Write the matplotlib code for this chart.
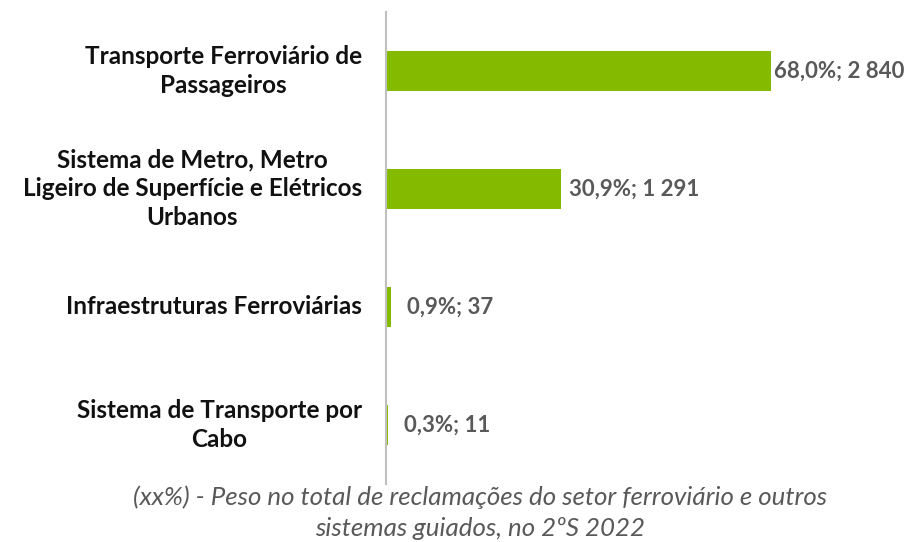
import matplotlib
matplotlib.use("Agg")
import matplotlib.pyplot as plt

categories = [
    "Transporte Ferroviário de\nPassageiros",
    "Sistema de Metro, Metro\nLigeiro de Superfície e Elétricos\nUrbanos",
    "Infraestruturas Ferroviárias",
    "Sistema de Transporte por\nCabo",
]
percent = [68.0, 30.9, 0.9, 0.3]
counts = ["2 840", "1 291", "37", "11"]
pct_labels = ["68,0%", "30,9%", "0,9%", "0,3%"]

W, H = 905, 542
fig = plt.figure(figsize=(W / 100, H / 100), dpi=100)
left, right = 386, 900
top, bottom = 12, 484
ax = fig.add_axes([left / W, 1 - bottom / H, (right - left) / W, (bottom - top) / H])

green = "#84bb00"
ypos = list(range(len(categories)))
ax.barh(ypos, percent, height=0.34, color=green, left=0)
ax.set_ylim(len(categories) - 0.5, -0.5)
ax.set_xlim(0, 90.8)

for y, p, pl, c in zip(ypos, percent, pct_labels, counts):
    off = 16 if p < 5 else (3 if p > 50 else 8)
    ax.annotate(f"{pl}; {c}", (p, y), xytext=(off * 0.72, 0), textcoords="offset points",
                va="center", ha="left", fontsize=16, fontweight="bold",
                color="#595959", family="Lato")

ytr = ax.get_yaxis_transform()
lab_x = (362 - left) / (right - left)
for y, cat in zip(ypos, categories):
    ax.text(lab_x, y, cat, transform=ytr, ha="right", va="center", fontsize=17.5,
            fontweight="bold", color="#111111", family="Lato", linespacing=1.3,
            multialignment="center")

ax.set_yticks([])
ax.set_xticks([])
for s in ["top", "right", "bottom"]:
    ax.spines[s].set_visible(False)
ax.spines["left"].set_color("#bfbfbf")
ax.spines["left"].set_linewidth(1.5)

fig.text(480 / W, 1 - 497 / H, "(xx%) - Peso no total de reclamações do setor ferroviário e outros",
         ha="center", va="center", fontsize=18.6, style="italic", color="#595959", family="Lato")
fig.text(480 / W, 1 - 528 / H, "sistemas guiados, no 2ºS 2022",
         ha="center", va="center", fontsize=18.6, style="italic", color="#595959", family="Lato")

fig.savefig("out.png", dpi=100)
